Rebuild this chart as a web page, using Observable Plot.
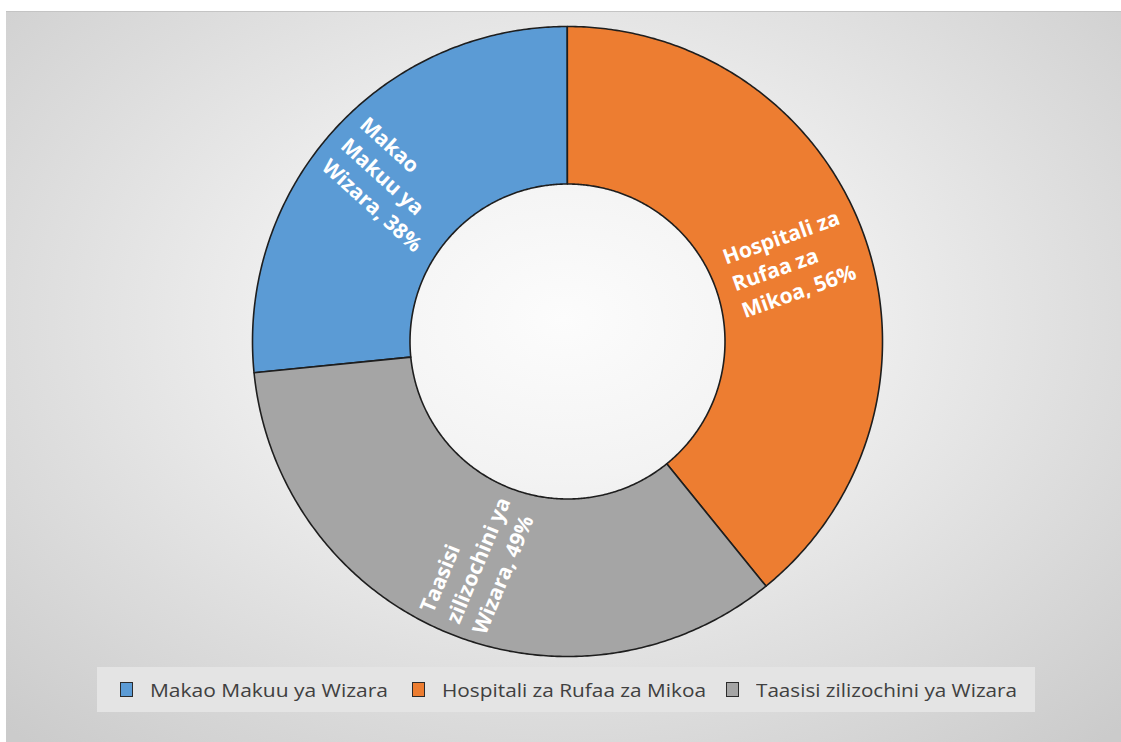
<!DOCTYPE html>
<html>
<head>
<meta charset="utf-8">
<script src="https://cdn.jsdelivr.net/npm/d3@7"></script>
<script src="https://cdn.jsdelivr.net/npm/@observablehq/plot@0.6"></script>
<style>
  html, body { margin: 0; padding: 0; background: #ffffff; }
  #wrap { position: relative; width: 1121px; height: 742px; overflow: hidden; }
  #panel {
    position: absolute; left: 6px; top: 11px; width: 1115px; height: 731px;
    background: radial-gradient(ellipse 72% 78% at 50% 42%, #fcfcfc 0%, #f3f3f3 28%, #e0e0e0 62%, #cbcbcb 100%);
    border-top: 1px solid #c4c4c4;
    box-sizing: border-box;
  }
  #chart { position: absolute; left: 0; top: 0; }
  #legend {
    position: absolute; left: 97px; top: 667px; width: 938px; height: 45px;
    background: #e4e4e4;
  }
  .item { position: absolute; top: 0; height: 45px; display: flex; align-items: center; }
  .sw { width: 11px; height: 13px; border: 1.7px solid #2b2b2b; margin-right: 17px; flex: none; }
  .lab { font-family: "Open Sans", sans-serif; font-size: 19px; color: #404040; white-space: nowrap; display: inline-block; transform-origin: left center; }
</style>
</head>
<body>
<div id="wrap">
  <div id="panel"></div>
  <div id="chart"></div>
  <div id="legend"></div>
</div>
<script>
// ---- data ----
const categories = ["Makao Makuu ya Wizara", "Hospitali za Rufaa za Mikoa", "Taasisi zilizochini ya Wizara"];
const values = [38, 56, 49];
const colors = ["#5B9BD5", "#ED7D31", "#A5A5A5"];
const labelTexts = ["Makao\nMakuu ya\nWizara, 38%", "Hospitali za\nRufaa za\nMikoa, 56%", "Taasisi\nzilizochini ya\nWizara, 49%"];
const firstSliceAngle = 264.3; // degrees, clockwise from top
const holeRatio = 0.5;

// ---- geometry ----
const W = 1121, H = 662;
const cx = 567, cy = 341, R = 315;
const labelSize = 21;
const labelFont = `bold ${labelSize}px 'Open Sans'`;
const total = d3.sum(values);

const slices = [];
let a = firstSliceAngle;
values.forEach((v, i) => {
  const span = v / total * 360;
  slices.push({key: categories[i], a0: a, a1: a + span, i});
  a += span;
});

const rad = d => d * Math.PI / 180;
const poly = [];
for (const s of slices) {
  const n = Math.max(2, Math.ceil((s.a1 - s.a0) / 0.5));
  for (let k = 0; k <= n; k++) {
    const t = rad(s.a0 + (s.a1 - s.a0) * k / n);
    poly.push({key: s.key, x: Math.sin(t), y: -Math.cos(t)});
  }
  for (let k = n; k >= 0; k--) {
    const t = rad(s.a0 + (s.a1 - s.a0) * k / n);
    poly.push({key: s.key, x: holeRatio * Math.sin(t), y: -holeRatio * Math.cos(t)});
  }
}

const ctx = document.createElement("canvas").getContext("2d");
ctx.font = labelFont;
const labels = slices.map((s, i) => {
  const m = (s.a0 + s.a1) / 2;
  let rot = m - 90;
  while (rot > 90) rot -= 180;
  while (rot <= -90) rot += 180;
  const lines = labelTexts[i].split("\n");
  const maxW = d3.max(lines, l => ctx.measureText(l).width);
  const rm = (1 + holeRatio) / 2;
  const px = rm * Math.sin(rad(m)), py = -rm * Math.cos(rad(m));
  const dx = Math.cos(rad(rot)), dy = Math.sin(rad(rot));
  return {
    text: labelTexts[i],
    x: px - dx * (maxW / 2) / R,
    y: py - dy * (maxW / 2) / R,
    rotate: rot
  };
});

const plot = Plot.plot({
  width: W, height: H,
  marginTop: 0, marginRight: 0, marginBottom: 0, marginLeft: 0,
  style: {background: "transparent", overflow: "visible"},
  x: {domain: [-1, 1], range: [cx - R, cx + R], axis: null},
  y: {domain: [-1, 1], range: [cy - R, cy + R], axis: null},
  color: {domain: categories, range: colors},
  marks: [
    Plot.line(poly, {x: "x", y: "y", z: "key", fill: "key", stroke: "#1e1e1e", strokeWidth: 1.6, curve: "linear-closed"}),
    Plot.text(labels, {
      x: "x", y: "y", text: "text", rotate: "rotate",
      textAnchor: "start", lineAnchor: "middle", lineHeight: 1.35,
      fill: "white", fontSize: labelSize, fontWeight: "bold", fontFamily: "Open Sans"
    })
  ]
});
document.getElementById("chart").appendChild(plot);

// ---- legend ----
const legendLefts = [23, 315, 629];
const legendTextWidths = [238, 264, 261];
const legend = document.getElementById("legend");
categories.forEach((c, i) => {
  const it = document.createElement("div");
  it.className = "item";
  it.style.left = legendLefts[i] + "px";
  const sw = document.createElement("div");
  sw.className = "sw";
  sw.style.background = colors[i];
  const lb = document.createElement("span");
  lb.className = "lab";
  lb.textContent = c;
  it.appendChild(sw); it.appendChild(lb);
  legend.appendChild(it);
  const w = lb.getBoundingClientRect().width;
  lb.style.transform = `scaleX(${legendTextWidths[i] / w})`;
});
</script>
</body>
</html>
